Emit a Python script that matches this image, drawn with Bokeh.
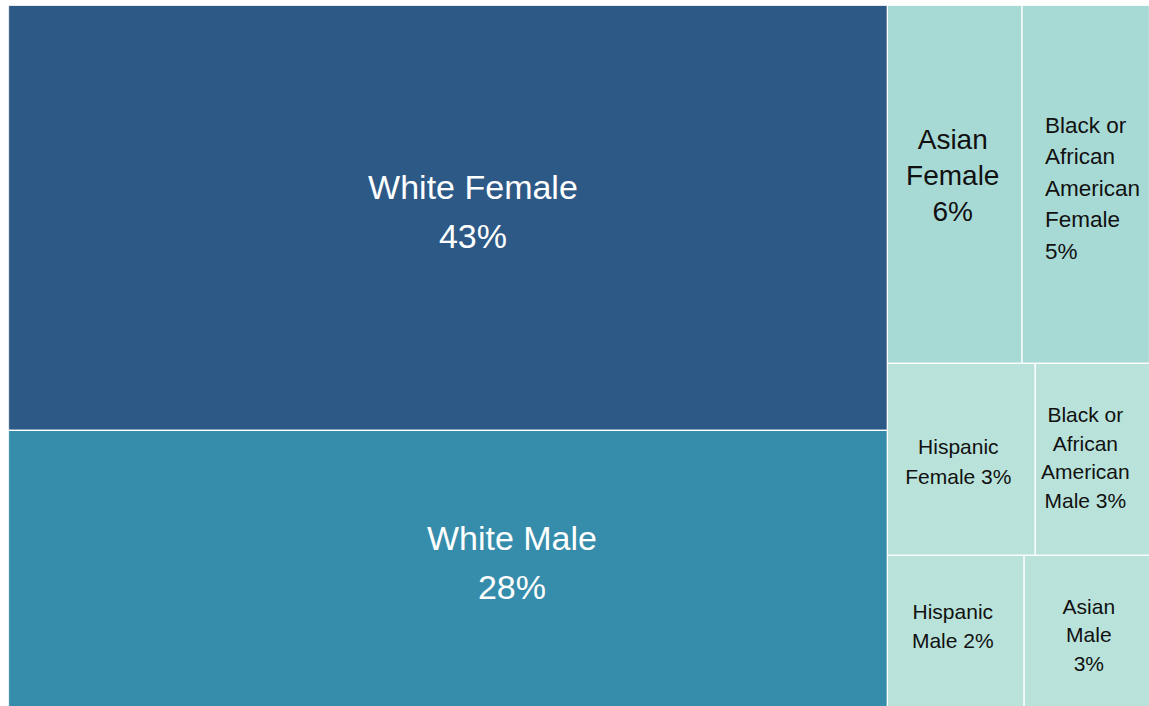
from bokeh.plotting import figure
from bokeh.models import ColumnDataSource, Range1d
from bokeh.core.properties import value
from bokeh.embed import file_html
from bokeh.resources import INLINE

# ---------------- data ----------------
categories = [
    "White Female", "White Male", "Asian Female",
    "Black or African American Female", "Hispanic Female",
    "Black or African American Male", "Hispanic Male", "Asian Male",
]
# relative tile sizes (read from tile areas)
sizes = [43.4, 28.2, 5.6, 5.3, 3.3, 2.55, 2.4, 2.2]
# percentages printed in the tiles
percent_labels = ["43%", "28%", "6%", "5%", "3%", "3%", "2%", "3%"]

# ---------------- layout / style ----------------
W, H = 1141.0, 701.0                      # treemap box (aspect)
# nesting: columns -> rows -> tile indices
columns = [[[0], [1]], [[2, 3], [4, 5], [6, 7]]]

fill_colors = ["#2D5986", "#368DAB", "#A8DAD5", "#A8DAD5",
               "#B9E3DA", "#B9E3DA", "#B9E3DA", "#B9E3DA"]
text_colors = ["#FFFFFF", "#FFFFFF"] + ["#111111"] * 6
name_lines = ["White Female\n", "White Male\n", "Asian\nFemale\n",
              "Black or\nAfrican\nAmerican\nFemale\n", "Hispanic\nFemale ",
              "Black or\nAfrican\nAmerican\nMale ", "Hispanic\nMale ", "Asian\nMale\n"]
font_px = [34, 34, 28, 22.5, 21, 21, 21, 21]
line_h = [1.29, 1.29, 1.167, 1.26, 1.279, 1.236, 1.236, 1.236]
align = ["center", "center", "center", "left", "center", "center", "center", "center"]
dx = [25, 64, -2, 23, -3, -7, -3, 2]      # label shift (left pad for left aligned)
dy = [-6, -6, -9, 4, 2, -2, -5, 4]

# ---------------- slice-and-dice layout ----------------
total = float(sum(sizes))
left = [0.0] * len(sizes); right = [0.0] * len(sizes)
top = [0.0] * len(sizes); bottom = [0.0] * len(sizes)
x0 = 0.0
for col in columns:
    col_sum = sum(sizes[i] for row in col for i in row)
    cw = W * col_sum / total
    y0 = 0.0
    for row in col:
        row_sum = sum(sizes[i] for i in row)
        rh = H * row_sum / col_sum
        xx = x0
        for i in row:
            w = cw * sizes[i] / row_sum
            left[i], right[i] = xx, xx + w
            top[i], bottom[i] = y0, y0 + rh
            xx += w
        y0 += rh
    x0 += cw

lx, ly = [], []
for i in range(len(sizes)):
    if align[i] == "left":
        lx.append(left[i] + dx[i])
    else:
        lx.append((left[i] + right[i]) / 2 + dx[i])
    ly.append((top[i] + bottom[i]) / 2 + dy[i])

src = ColumnDataSource(dict(
    left=left, right=right, top=top, bottom=bottom,
    fill=fill_colors, cat=categories,
))
lab = ColumnDataSource(dict(
    x=lx, y=ly,
    text=[n + p for n, p in zip(name_lines, percent_labels)],
    color=text_colors,
    size=[f"{s}px" for s in font_px],
    lh=line_h, align=align,
))

p = figure(width=1149, height=706, output_backend="svg", toolbar_location=None,
           x_range=Range1d(0, W), y_range=Range1d(H, 0),
           min_border_left=8, min_border_top=5, min_border_right=0,
           min_border_bottom=0, outline_line_color=None)
p.xaxis.visible = False
p.yaxis.visible = False
p.grid.visible = False
p.background_fill_color = "white"
p.border_fill_color = "white"

p.quad(left="left", right="right", top="top", bottom="bottom", source=src,
       fill_color="fill", line_color="white", line_width=1.2)
p.text(x="x", y="y", text="text", source=lab,
       text_color="color", text_font=value("Liberation Sans"),
       text_font_size="size", text_line_height="lh",
       text_align="align", text_baseline="middle")

open("out.html", "w").write(file_html(p, INLINE))
